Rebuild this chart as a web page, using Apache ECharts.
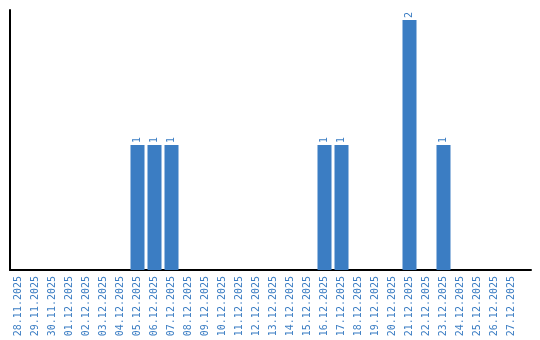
<!DOCTYPE html>
<html>
<head>
<meta charset="utf-8">
<script src="https://cdn.jsdelivr.net/npm/echarts@6/dist/echarts.min.js"></script>
<style>html,body{margin:0;padding:0;background:#fff}#c{width:540px;height:340px}</style>
</head>
<body>
<div id="c"></div>
<script>
const categories = ["28.11.2025","29.11.2025","30.11.2025","01.12.2025","02.12.2025","03.12.2025","04.12.2025","05.12.2025","06.12.2025","07.12.2025","08.12.2025","09.12.2025","10.12.2025","11.12.2025","12.12.2025","13.12.2025","14.12.2025","15.12.2025","16.12.2025","17.12.2025","18.12.2025","19.12.2025","20.12.2025","21.12.2025","22.12.2025","23.12.2025","24.12.2025","25.12.2025","26.12.2025","27.12.2025"];
const counts = [null,null,null,null,null,null,null,1,1,1,null,null,null,null,null,null,null,null,1,1,null,null,null,2,null,1,null,null,null,null];
const barColor = '#3b7dc3';
const chart = echarts.init(document.getElementById('c'), null, {renderer:'canvas'});
chart.setOption({
  animation: false,
  grid: [
    {left: 10, top: 10, width: 510, height: 260, containLabel: false},
    {left: 10, top: 10, width: 521, height: 260, containLabel: false}
  ],
  xAxis: [
    {
      type: 'category', data: categories, gridIndex: 0,
      axisLine: {show: false},
      axisTick: {show: false},
      axisLabel: {rotate: 90, color: barColor, fontFamily: 'DejaVu Sans Mono', fontSize: 10, margin: 6, interval: 0}
    },
    {
      type: 'value', gridIndex: 1, min: 0, max: 1,
      axisLine: {show: true, lineStyle: {color: '#000', width: 2}},
      axisTick: {show: false}, axisLabel: {show: false}, splitLine: {show: false}
    }
  ],
  yAxis: [
    {
      type: 'value', gridIndex: 0, min: 0, max: 2.08,
      axisLine: {show: true, lineStyle: {color: '#000', width: 2}},
      axisTick: {show: false}, axisLabel: {show: false}, splitLine: {show: false}
    },
    {
      type: 'value', gridIndex: 1, show: false
    }
  ],
  series: [{
    type: 'bar', data: counts, barWidth: 14,
    itemStyle: {color: barColor},
    label: {show: true, position: 'top', rotate: 90, align: 'left', verticalAlign: 'middle', distance: 2, color: barColor, fontFamily: 'DejaVu Sans Mono', fontSize: 10}
  }]
});
</script>
</body>
</html>
